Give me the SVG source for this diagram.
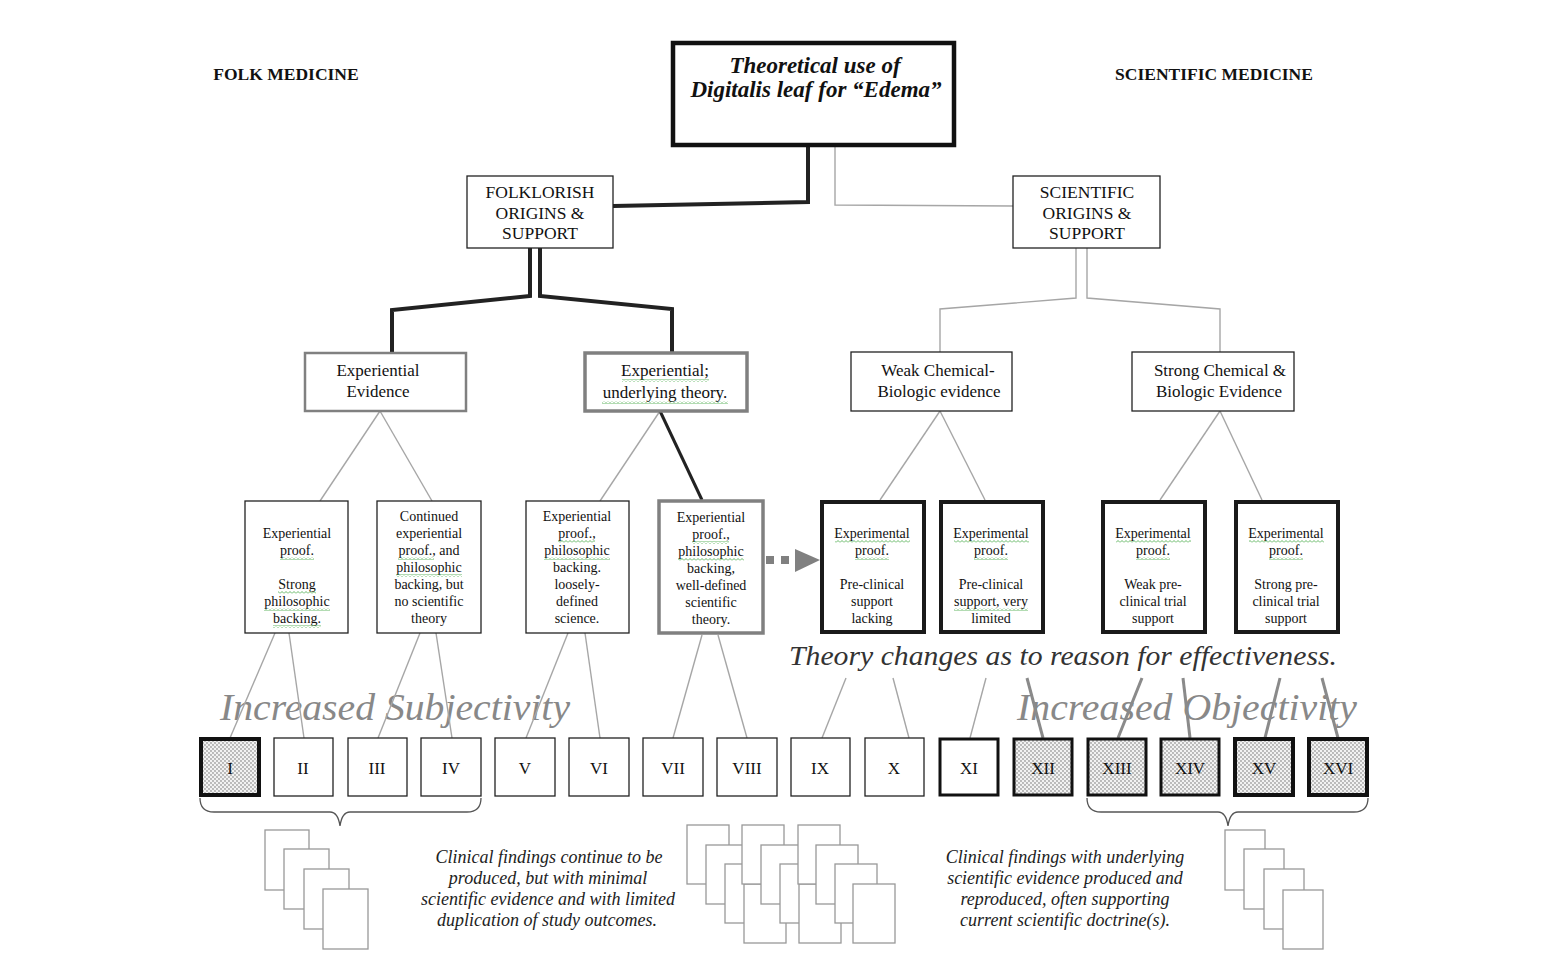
<svg xmlns="http://www.w3.org/2000/svg" width="1544" height="969" viewBox="0 0 1544 969">
<style>
text{font-family:"Liberation Serif","Times New Roman",serif;fill:#111;text-anchor:middle}
.hdr{font-size:17.5px;font-weight:bold}
.ttl{font-size:23px;font-weight:bold;font-style:italic}
.l1{font-size:17.5px}
.l2{font-size:17px}
.l3{font-size:14px}
.l4{font-size:17px}
.big{font-style:italic;fill:#888;font-size:38px}
.thy{font-style:italic;fill:#333;font-size:28px}
.note{font-style:italic;font-size:18px;fill:#222}
.box{fill:#fff;stroke:#222;stroke-width:1.3}
.gbox{fill:#fff;stroke:#808080}
.tbox{fill:#fff;stroke:#1a1a1a;stroke-width:4}
.dot{fill:url(#stip);stroke:#111}
.thin{fill:none;stroke:#a6a6a6;stroke-width:1.4}
.thick{fill:none;stroke:#222;stroke-width:4}
.mid{fill:none;stroke:#8a8a8a;stroke-width:3}
.sheet{fill:#fff;stroke:#999;stroke-width:1.3}
.brace{fill:none;stroke:#555;stroke-width:1.3}
.sq{fill:url(#squig)}
</style>
<defs>
<pattern id="stip" width="4" height="4" patternUnits="userSpaceOnUse">
<rect width="4" height="4" fill="#f2f2f2"/>
<circle cx="1" cy="1" r="0.65" fill="#555"/>
<circle cx="3" cy="3" r="0.65" fill="#555"/>
</pattern>
<pattern id="squig" width="4" height="3" patternUnits="userSpaceOnUse">
<path d="M0,2.5 L2,0.5 L4,2.5" fill="none" stroke="#3fa63f" stroke-width="0.8"/>
</pattern>
</defs>
<rect width="1544" height="969" fill="#fff"/>

<text class="hdr" x="286" y="80">FOLK MEDICINE</text>
<text class="hdr" x="1214" y="80">SCIENTIFIC MEDICINE</text>

<text class="big" x="395" y="720" textLength="350" lengthAdjust="spacingAndGlyphs">Increased Subjectivity</text>
<text class="big" x="1187" y="720" textLength="340" lengthAdjust="spacingAndGlyphs">Increased Objectivity</text>
<text class="thy" x="1063" y="665" textLength="548" lengthAdjust="spacingAndGlyphs">Theory changes as to reason for effectiveness.</text>

<g id="connectors">
<polyline class="thick" points="808,147 808,202 613,206"/>
<polyline class="thin" points="835,147 835,205 1013,206"/>
<polyline class="thick" points="530,248 530,296 392,310 392,352"/>
<polyline class="thick" points="540,248 540,296 672,309 672,352"/>
<polyline class="thin" points="1076,248 1076,298 940,309 940,352"/>
<polyline class="thin" points="1087,248 1087,298 1220,309 1220,352"/>
<line class="thin" x1="380" y1="411" x2="320" y2="501"/>
<line class="thin" x1="380" y1="411" x2="432" y2="501"/>
<line class="thin" x1="660" y1="411" x2="600" y2="501"/>
<line x1="660" y1="411" x2="702" y2="500" stroke="#222" stroke-width="3"/>
<line class="thin" x1="940" y1="411" x2="880" y2="500"/>
<line class="thin" x1="940" y1="411" x2="985" y2="500"/>
<line class="thin" x1="1220" y1="411" x2="1160" y2="500"/>
<line class="thin" x1="1220" y1="411" x2="1262" y2="500"/>
<line class="thin" x1="275" y1="633" x2="230" y2="738"/>
<line class="thin" x1="289" y1="633" x2="304" y2="738"/>
<line class="thin" x1="420" y1="633" x2="378" y2="738"/>
<line class="thin" x1="436" y1="633" x2="452" y2="738"/>
<line class="thin" x1="568" y1="633" x2="526" y2="738"/>
<line class="thin" x1="585" y1="633" x2="600" y2="738"/>
<line class="thin" x1="702" y1="635" x2="673" y2="738"/>
<line class="thin" x1="718" y1="635" x2="747" y2="738"/>
<line class="thin" x1="846" y1="678" x2="822" y2="738"/>
<line class="thin" x1="893" y1="678" x2="909" y2="738"/>
<line class="thin" x1="986" y1="678" x2="970" y2="738"/>
<line class="mid" x1="1027" y1="678" x2="1043" y2="738"/>
<line class="mid" x1="1142" y1="678" x2="1118" y2="738"/>
<line class="mid" x1="1183" y1="678" x2="1190" y2="738"/>
<line class="mid" x1="1280" y1="678" x2="1265" y2="738"/>
<line class="mid" x1="1322" y1="678" x2="1338" y2="738"/>
<g id="dotted-arrow" fill="#808080">
<rect x="766" y="556" width="8" height="8"/>
<rect x="781" y="556" width="8" height="8"/>
<polygon points="795,549 820,560 795,572"/>
</g>
</g>

<g id="title">
<rect x="673" y="43" width="281" height="102" fill="#fff" stroke="#111" stroke-width="4.5"/>
<text class="ttl" x="815" y="73">Theoretical use of</text>
<text class="ttl" x="816" y="97">Digitalis leaf for “Edema”</text>
</g>

<g id="folklorish">
<rect class="box" x="467" y="176" width="146" height="72"/>
<text class="l1" x="540" y="198">FOLKLORISH</text>
<text class="l1" x="540" y="219">ORIGINS &amp;</text>
<text class="l1" x="540" y="239">SUPPORT</text>
</g>
<g id="scientific">
<rect class="box" x="1013" y="176" width="147" height="72"/>
<text class="l1" x="1087" y="198">SCIENTIFIC</text>
<text class="l1" x="1087" y="219">ORIGINS &amp;</text>
<text class="l1" x="1087" y="239">SUPPORT</text>
</g>

<g id="exp-evidence">
<rect class="gbox" x="305" y="353" width="161" height="58" stroke-width="2.5"/>
<text class="l2" x="378" y="376">Experiential</text>
<text class="l2" x="378" y="397">Evidence</text>
</g>
<g id="exp-theory">
<rect class="gbox" x="585" y="353" width="162" height="58" stroke-width="3.5"/>
<text class="l2" x="665" y="376">Experiential;</text>
<text class="l2" x="665" y="398">underlying theory.</text>
<rect class="sq" x="622" y="379" width="87" height="3"/>
<rect class="sq" x="602" y="401" width="126" height="3"/>
</g>
<g id="weak-chem">
<rect class="box" x="851" y="352" width="161" height="59"/>
<text class="l2" x="938" y="376">Weak Chemical-</text>
<text class="l2" x="939" y="397">Biologic evidence</text>
</g>
<g id="strong-chem">
<rect class="box" x="1132" y="352" width="162" height="59"/>
<text class="l2" x="1220" y="376">Strong Chemical &amp;</text>
<text class="l2" x="1219" y="397">Biologic Evidence</text>
</g>

<g id="b1">
<rect class="box" x="245" y="501" width="103" height="132"/>
<text class="l3" x="297" y="538">Experiential</text>
<text class="l3" x="297" y="555">proof.</text>
<text class="l3" x="297" y="589">Strong</text>
<text class="l3" x="297" y="606">philosophic</text>
<text class="l3" x="297" y="623">backing.</text>
<rect class="sq" x="280" y="557" width="34" height="3"/>
<rect class="sq" x="278" y="591" width="38" height="3"/>
<rect class="sq" x="264" y="608" width="66" height="3"/>
<rect class="sq" x="273" y="625" width="48" height="3"/>
</g>
<g id="b2">
<rect class="box" x="377" y="501" width="104" height="132"/>
<text class="l3" x="429" y="521">Continued</text>
<text class="l3" x="429" y="538">experiential</text>
<text class="l3" x="429" y="555">proof., and</text>
<text class="l3" x="429" y="572">philosophic</text>
<text class="l3" x="429" y="589">backing, but</text>
<text class="l3" x="429" y="606">no scientific</text>
<text class="l3" x="429" y="623">theory</text>
<rect class="sq" x="398" y="557" width="36" height="3"/>
<rect class="sq" x="396" y="574" width="66" height="3"/>
</g>
<g id="b3">
<rect class="box" x="526" y="501" width="103" height="132"/>
<text class="l3" x="577" y="521">Experiential</text>
<text class="l3" x="577" y="538">proof.,</text>
<text class="l3" x="577" y="555">philosophic</text>
<text class="l3" x="577" y="572">backing.</text>
<text class="l3" x="577" y="589">loosely-</text>
<text class="l3" x="577" y="606">defined</text>
<text class="l3" x="577" y="623">science.</text>
<rect class="sq" x="558" y="540" width="37" height="3"/>
<rect class="sq" x="544" y="557" width="66" height="3"/>
</g>
<g id="b4">
<rect class="gbox" x="659" y="501" width="104" height="132" stroke-width="3.5"/>
<text class="l3" x="711" y="522">Experiential</text>
<text class="l3" x="711" y="539">proof.,</text>
<text class="l3" x="711" y="556">philosophic</text>
<text class="l3" x="711" y="573">backing,</text>
<text class="l3" x="711" y="590">well-defined</text>
<text class="l3" x="711" y="607">scientific</text>
<text class="l3" x="711" y="624">theory.</text>
<rect class="sq" x="692" y="541" width="37" height="3"/>
<rect class="sq" x="678" y="558" width="66" height="3"/>
</g>
<g id="b5">
<rect class="tbox" x="822" y="502" width="102" height="130"/>
<text class="l3" x="872" y="538">Experimental</text>
<text class="l3" x="872" y="555">proof.</text>
<text class="l3" x="872" y="589">Pre-clinical</text>
<text class="l3" x="872" y="606">support</text>
<text class="l3" x="872" y="623">lacking</text>
<rect class="sq" x="835" y="540" width="75" height="3"/>
<rect class="sq" x="855" y="557" width="34" height="3"/>
</g>
<g id="b6">
<rect class="tbox" x="941" y="502" width="102" height="130"/>
<text class="l3" x="991" y="538">Experimental</text>
<text class="l3" x="991" y="555">proof.</text>
<text class="l3" x="991" y="589">Pre-clinical</text>
<text class="l3" x="991" y="606">support, very</text>
<text class="l3" x="991" y="623">limited</text>
<rect class="sq" x="954" y="540" width="75" height="3"/>
<rect class="sq" x="974" y="557" width="34" height="3"/>
<rect class="sq" x="954" y="608" width="74" height="3"/>
</g>
<g id="b7">
<rect class="tbox" x="1103" y="502" width="102" height="130"/>
<text class="l3" x="1153" y="538">Experimental</text>
<text class="l3" x="1153" y="555">proof.</text>
<text class="l3" x="1153" y="589">Weak pre-</text>
<text class="l3" x="1153" y="606">clinical trial</text>
<text class="l3" x="1153" y="623">support</text>
<rect class="sq" x="1116" y="540" width="75" height="3"/>
<rect class="sq" x="1136" y="557" width="34" height="3"/>
</g>
<g id="b8">
<rect class="tbox" x="1236" y="502" width="102" height="130"/>
<text class="l3" x="1286" y="538">Experimental</text>
<text class="l3" x="1286" y="555">proof.</text>
<text class="l3" x="1286" y="589">Strong pre-</text>
<text class="l3" x="1286" y="606">clinical trial</text>
<text class="l3" x="1286" y="623">support</text>
<rect class="sq" x="1249" y="540" width="75" height="3"/>
<rect class="sq" x="1269" y="557" width="34" height="3"/>
</g>

<g id="n1"><rect class="dot" x="201" y="739" width="58" height="56" stroke-width="4"/><text class="l4" x="230" y="774">I</text></g>
<g id="n2"><rect class="box" x="274" y="738" width="59" height="58"/><text class="l4" x="303" y="774">II</text></g>
<g id="n3"><rect class="box" x="348" y="738" width="59" height="58"/><text class="l4" x="377" y="774">III</text></g>
<g id="n4"><rect class="box" x="421" y="738" width="60" height="58"/><text class="l4" x="451" y="774">IV</text></g>
<g id="n5"><rect class="box" x="495" y="738" width="60" height="58"/><text class="l4" x="525" y="774">V</text></g>
<g id="n6"><rect class="box" x="569" y="738" width="60" height="58"/><text class="l4" x="599" y="774">VI</text></g>
<g id="n7"><rect class="box" x="643" y="738" width="60" height="58"/><text class="l4" x="673" y="774">VII</text></g>
<g id="n8"><rect class="box" x="717" y="738" width="60" height="58"/><text class="l4" x="747" y="774">VIII</text></g>
<g id="n9"><rect class="box" x="791" y="738" width="59" height="58"/><text class="l4" x="820" y="774">IX</text></g>
<g id="n10"><rect class="box" x="865" y="738" width="59" height="58"/><text class="l4" x="894" y="774">X</text></g>
<g id="n11"><rect x="940" y="739" width="58" height="56" fill="#fff" stroke="#111" stroke-width="3"/><text class="l4" x="969" y="774">XI</text></g>
<g id="n12"><rect class="dot" x="1014" y="739" width="58" height="56" stroke-width="3"/><text class="l4" x="1043" y="774">XII</text></g>
<g id="n13"><rect class="dot" x="1088" y="739" width="58" height="56" stroke-width="3"/><text class="l4" x="1117" y="774">XIII</text></g>
<g id="n14"><rect class="dot" x="1161" y="739" width="58" height="56" stroke-width="3"/><text class="l4" x="1190" y="774">XIV</text></g>
<g id="n15"><rect class="dot" x="1235" y="739" width="58" height="56" stroke-width="4"/><text class="l4" x="1264" y="774">XV</text></g>
<g id="n16"><rect class="dot" x="1309" y="739" width="58" height="56" stroke-width="4"/><text class="l4" x="1338" y="774">XVI</text></g>

<g id="braces">
<path class="brace" d="M200,798 Q200,812 214,812 L330,812 Q338,812 340,826 Q342,812 350,812 L467,812 Q481,812 481,798"/>
<path class="brace" d="M1087,798 Q1087,812 1101,812 L1218,812 Q1226,812 1228,826 Q1230,812 1238,812 L1354,812 Q1368,812 1368,798"/>
</g>

<g id="stack-left">
<rect class="sheet" x="265" y="830" width="44" height="60"/>
<rect class="sheet" x="284" y="849" width="45" height="60"/>
<rect class="sheet" x="304" y="869" width="45" height="60"/>
<rect class="sheet" x="323" y="889" width="45" height="60"/>
</g>
<g id="stack-mid">
<rect class="sheet" x="687" y="825" width="42" height="59"/>
<rect class="sheet" x="706" y="845" width="42" height="59"/>
<rect class="sheet" x="725" y="864" width="42" height="59"/>
<rect class="sheet" x="744" y="884" width="42" height="59"/>
<rect class="sheet" x="742" y="825" width="42" height="59"/>
<rect class="sheet" x="761" y="845" width="42" height="59"/>
<rect class="sheet" x="780" y="864" width="42" height="59"/>
<rect class="sheet" x="799" y="884" width="42" height="59"/>
<rect class="sheet" x="798" y="825" width="42" height="59"/>
<rect class="sheet" x="816" y="845" width="42" height="59"/>
<rect class="sheet" x="835" y="864" width="42" height="59"/>
<rect class="sheet" x="853" y="884" width="42" height="59"/>
</g>
<g id="stack-right">
<rect class="sheet" x="1225" y="830" width="40" height="60"/>
<rect class="sheet" x="1244" y="849" width="40" height="60"/>
<rect class="sheet" x="1264" y="869" width="40" height="60"/>
<rect class="sheet" x="1283" y="890" width="40" height="59"/>
</g>

<g id="note-left">
<text class="note" x="549" y="863">Clinical findings  continue to be</text>
<text class="note" x="548" y="884">produced, but with minimal</text>
<text class="note" x="548" y="905">scientific  evidence and with limited</text>
<text class="note" x="547" y="926">duplication  of study outcomes.</text>
</g>
<g id="note-right">
<text class="note" x="1065" y="863">Clinical findings  with underlying</text>
<text class="note" x="1065" y="884">scientific  evidence produced and</text>
<text class="note" x="1065" y="905">reproduced, often supporting</text>
<text class="note" x="1065" y="926">current scientific  doctrine(s).</text>
</g>
</svg>
